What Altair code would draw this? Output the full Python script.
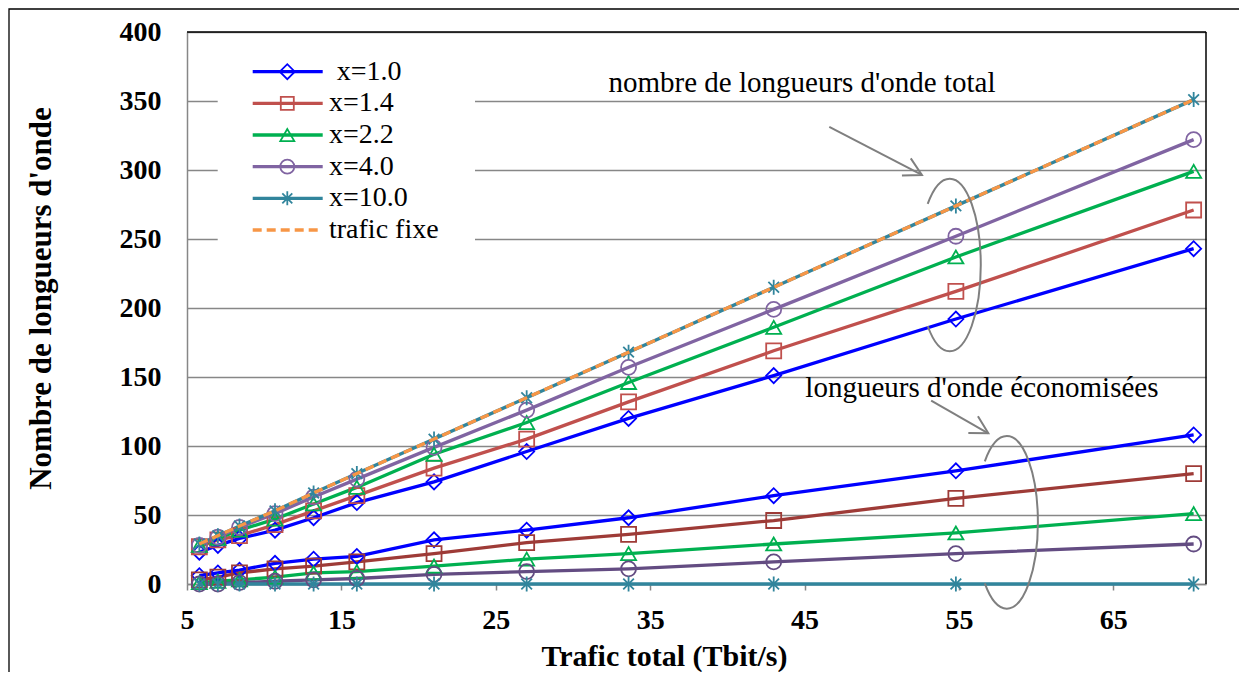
import altair as alt
import pandas as pd

# ---------------- data ----------------
traffic = [5.8, 7.0, 8.4, 10.7, 13.2, 16.0, 21.0, 27.0, 33.6, 43.0, 54.8, 70.2]

series = ["x=1.0", "x=1.4", "x=2.2", "x=4.0", "x=10.0"]

total_x1_0 = [23, 28, 33, 39, 48, 59, 74, 96, 120, 151, 192, 243]
total_x1_4 = [27, 32, 35, 43, 53, 64, 84, 105, 132, 169, 212, 271]
total_x2_2 = [28, 33, 39, 47, 58, 70, 94, 117, 146, 186, 237, 299]
total_x4_0 = [28, 34, 41, 51, 63, 76, 99, 126, 157, 199, 252, 322]
total_x10_0 = [29, 35, 42, 53, 66, 80, 105, 135, 168, 215, 274, 351]

saved_x1_0 = [6, 8, 10, 15, 18, 20, 32, 39, 48, 64, 82, 108]
saved_x1_4 = [3, 5, 8, 11, 13, 16, 22, 30, 36, 46, 62, 80]
saved_x2_2 = [1, 2, 3, 5, 8, 9, 13, 18, 22, 29, 37, 51]
saved_x4_0 = [0, 0, 1, 2, 3, 4, 7, 9, 11, 16, 22, 29]
saved_x10_0 = [0, 0, 0, 0, 0, 0, 0, 0, 0, 0, 0, 0]

trafic_fixe = [29, 35, 42, 53, 66, 80, 105, 135, 168, 215, 274, 351]

legend_labels = [" x=1.0", "x=1.4", "x=2.2", "x=4.0", "x=10.0", "trafic fixe"]
x_tick_values = [5, 15, 25, 35, 45, 55, 65]
y_tick_values = [0, 50, 100, 150, 200, 250, 300, 350, 400]
annotation_labels = ["nombre de longueurs d'onde total", "longueurs d'onde économisées"]

# ---------------- styles ----------------
SERIF = "Liberation Serif"
GRID = "#878787"
ANN = "#7F7F7F"
W, H = 1019, 552
LW = 3.3

col_total = ["#0000FF", "#C0504D", "#00B050", "#8064A2", "#31859C"]
col_saved = ["#0000FF", "#9E3B37", "#00B050", "#634C82", "#31859C"]
FIXE_COLOR = "#F79646"

STAR = "M0,-1L0,1M-0.71,-0.71L0.71,0.71M-0.71,0.71L0.71,-0.71"
shapes = ["diamond", "square", "triangle-up", "circle", STAR]
size_total = [225, 169, 196, 196, 196]
size_saved = [225, 196, 169, 324, 196]

ELLIPSE = ("M-0.255,-0.707C-0.187,-0.895,-0.096,-1,0,-1"
           "C0.199,-1,0.36,-0.552,0.36,0C0.36,0.552,0.199,1,0,1"
           "C-0.096,1,-0.187,0.895,-0.255,0.707")
ARROW = "M-1,-0.55L0,0L-1,0.55"

# ---------------- tables ----------------
totals = [total_x1_0, total_x1_4, total_x2_2, total_x4_0, total_x10_0]
saveds = [saved_x1_0, saved_x1_4, saved_x2_2, saved_x4_0, saved_x10_0]

rows = []
keys, key_colors, key_sizes = [], [], []
for i, s in enumerate(series):
    for grp, vals, cols, sizes in (("total", totals[i], col_total, size_total),
                                   ("saved", saveds[i], col_saved, size_saved)):
        k = f"{s} {grp}"
        keys.append(k)
        key_colors.append(cols[i])
        key_sizes.append(sizes[i])
        for t, v in zip(traffic, vals):
            rows.append({"traffic": t, "value": v, "series": s, "line": k})
df = pd.DataFrame(rows)
df_fixe = pd.DataFrame({"traffic": traffic, "value": trafic_fixe})

xs = alt.Scale(domain=[5, 71], nice=False, zero=False)
ys = alt.Scale(domain=[0, 400], nice=False, zero=False)
xa = alt.Axis(values=x_tick_values, title="Trafic total (Tbit/s)", grid=False,
              labelFont=SERIF, labelFontSize=28, labelFontWeight="bold", labelColor="black",
              labelFlush=False, labelOverlap=False, labelPadding=16,
              tickColor=GRID, tickSize=6, tickWidth=1.5,
              domainColor=GRID, domainWidth=1.5,
              titleFont=SERIF, titleFontSize=30, titleFontWeight="bold", titleColor="black",
              titleX=477, titleY=81, titleBaseline="alphabetic", titleAlign="center")
ya = alt.Axis(values=y_tick_values, title="Nombre de longueurs d'onde", grid=True,
              gridColor=GRID, gridWidth=1.5, ticks=False, tickSize=0,
              labelFont=SERIF, labelFontSize=28, labelFontWeight="bold", labelColor="black",
              labelFlush=False, labelOverlap=False, labelPadding=26,
              domainColor=GRID, domainWidth=1.5,
              titleFont=SERIF, titleFontSize=31, titleFontWeight="bold", titleColor="black",
              titleAngle=270, titleX=-137, titleY=266, titleBaseline="alphabetic",
              titleAlign="center")


def X(f="traffic"):
    return alt.X(f"{f}:Q", scale=xs, axis=xa)


def Y(f="value"):
    return alt.Y(f"{f}:Q", scale=ys, axis=ya)


one = pd.DataFrame({"a": [0]})

layers = []

# outer frame (decoration)
layers.append(alt.Chart(one).mark_rect(fillOpacity=0, stroke="black", strokeWidth=1.3).encode(
    x=alt.value(-178), x2=alt.value(1053), y=alt.value(-23), y2=alt.value(720)))

# legend background
layers.append(alt.Chart(one).mark_rect(color="white").encode(
    x=alt.value(30.7), x2=alt.value(288), y=alt.value(13), y2=alt.value(220)))

color_enc = alt.Color("line:N", scale=alt.Scale(domain=keys, range=key_colors), legend=None)

layers.append(alt.Chart(df).mark_line(strokeWidth=LW).encode(
    x=X(), y=Y(), color=color_enc, detail="line:N"))

layers.append(alt.Chart(df).mark_point(filled=False, strokeWidth=1.8, opacity=1).encode(
    x=X(), y=Y(), color=color_enc,
    shape=alt.Shape("series:N", scale=alt.Scale(domain=series, range=shapes), legend=None),
    size=alt.Size("line:N", scale=alt.Scale(domain=keys, range=key_sizes), legend=None)))

layers.append(alt.Chart(df_fixe).mark_line(color=FIXE_COLOR, strokeWidth=LW, strokeDash=[9, 5]).encode(
    x=X(), y=Y()))

# plot-area border top/right
layers.append(alt.Chart(one).mark_rule(color="black", strokeWidth=1.5).encode(
    x=alt.value(0), x2=alt.value(W), y=alt.value(0)))
layers.append(alt.Chart(one).mark_rule(color="black", strokeWidth=1.5).encode(
    x=alt.value(W), y=alt.value(0), y2=alt.value(H)))

# legend rows
leg_colors = col_total + [FIXE_COLOR]
for i, lab in enumerate(legend_labels):
    yy = 39.7 + i * 31.66
    col = leg_colors[i]
    if i < 5:
        layers.append(alt.Chart(one).mark_rule(color=col, strokeWidth=LW).encode(
            x=alt.value(65.7), x2=alt.value(135.7), y=alt.value(yy)))
        layers.append(alt.Chart(one).mark_point(shape=shapes[i], size=size_total[i], filled=False,
                                                color=col, strokeWidth=1.8, opacity=1).encode(
            x=alt.value(100.3), y=alt.value(yy)))
    else:
        layers.append(alt.Chart(one).mark_rule(color=col, strokeWidth=LW, strokeDash=[9, 5]).encode(
            x=alt.value(65.7), x2=alt.value(135.7), y=alt.value(yy)))
    xoff = 149.7 if lab.startswith(" ") else 142
    layers.append(alt.Chart(one).mark_text(text=lab.strip(), align="left", baseline="middle",
                                           font=SERIF, fontSize=28, color="black").encode(
        x=alt.value(xoff), y=alt.value(yy)))

# annotations
ann_text = pd.DataFrame({"traffic": [32.3, 45.05], "value": [356.5, 135.7], "label": annotation_labels})
layers.append(alt.Chart(ann_text).mark_text(align="left", baseline="alphabetic", font=SERIF,
                                            fontSize=29, color="black").encode(
    x=X(), y=Y(), text="label:N"))

ann_arrow = pd.DataFrame({"traffic": [46.6, 53.2], "value": [331.2, 132.8],
                          "traffic2": [52.6, 56.9], "value2": [296.4, 109.2],
                          "ang": [27.3, 29.9]})
layers.append(alt.Chart(ann_arrow).mark_rule(color=ANN, strokeWidth=2).encode(
    x=X(), y=Y(), x2="traffic2:Q", y2="value2:Q"))
layers.append(alt.Chart(ann_arrow).mark_point(shape=ARROW, size=1225, filled=False, color=ANN,
                                              strokeWidth=2, opacity=1).encode(
    x=X("traffic2"), y=Y("value2"), angle=alt.Angle("ang:Q", scale=None)))

ann_ell = pd.DataFrame({"traffic": [54.4, 58.1], "value": [231.2, 44.7]})
layers.append(alt.Chart(ann_ell).mark_point(shape=ELLIPSE, size=29800, filled=False, color=ANN,
                                            strokeWidth=2, opacity=1).encode(x=X(), y=Y()))

chart = alt.layer(*layers).properties(
    width=W, height=H,
    padding={"left": 179, "top": 24, "right": 33, "bottom": 88},
    autosize=alt.AutoSizeParams(type="none"),
    background="white",
).configure_view(stroke=None)

chart.save("out.html", embed_options={"renderer": "svg", "actions": False})
